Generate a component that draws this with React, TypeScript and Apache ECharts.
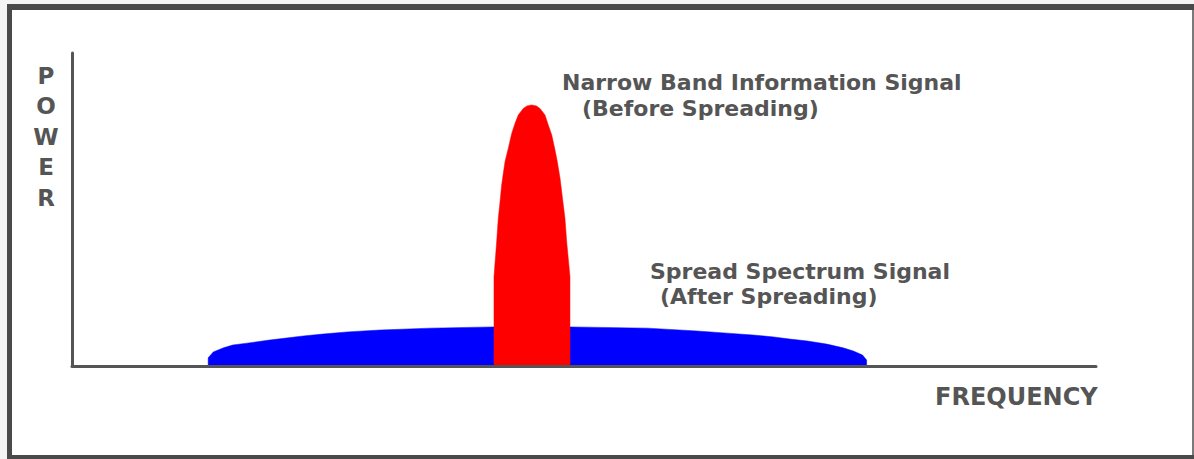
import React, { useEffect, useRef } from "react";
import * as echarts from "echarts";

// Spread spectrum (blue) signal: frequency / power readings
const blueFreq = [13.3, 13.3, 13.8, 14.8, 15.7, 17.1, 19.3, 22.6, 24.5, 26.9, 30.1, 35.0, 41.2, 48.6, 56.2, 61.0, 64.0, 66.5, 68.5, 70.1, 71.8, 73.7, 75.3, 76.3, 77.2, 77.6, 77.6];
const bluePower = [0, 2.6, 4.5, 5.8, 6.7, 7.3, 8.3, 9.6, 10.2, 10.9, 11.5, 12.1, 12.5, 12.5, 12.1, 11.2, 10.5, 9.9, 9.3, 8.6, 8.0, 7.0, 5.8, 4.8, 3.5, 1.9, 0];

// Narrow band (red) signal: frequency / power readings
const redFreq = [41.21, 41.21, 41.47, 41.63, 41.8, 41.96, 42.12, 42.29, 42.61, 42.94, 43.26, 43.58, 44.07, 44.43, 44.89, 45.36, 45.7, 46.19, 46.51, 46.85, 47.17, 47.39, 47.66, 47.98, 48.14, 48.31, 48.63, 48.63];
const redPower = [0, 28.5, 39.7, 47.2, 52.5, 57.8, 61.6, 65.3, 69.6, 74.3, 77.5, 80.2, 82.3, 83.1, 83.4, 83.1, 82.3, 80.2, 77.0, 73.8, 69.0, 65.3, 60.0, 51.4, 47.2, 39.7, 28.5, 0];

const yAxisTitle = ["P", "O", "W", "E", "R"];
const xAxisTitle = "FREQUENCY";
const narrowLabel = ["Narrow Band Information Signal", "(Before Spreading)"];
const spreadLabel = ["Spread Spectrum Signal", "(After Spreading)"];

const TEXT_COLOR = "#555555";
const FONT = "'DejaVu Sans', sans-serif";

export default function App() {
  const ref = useRef<HTMLDivElement>(null);
  useEffect(() => {
    if (!ref.current) return;
    const chart = echarts.init(ref.current, null, { renderer: "svg" });
    const blueData = blueFreq.map((f, i) => [f, bluePower[i]]);
    const redData = redFreq.map((f, i) => [f, redPower[i]]);
    const textStyle = (size: number) => ({
      fill: TEXT_COLOR,
      fontFamily: FONT,
      fontWeight: "bold" as const,
      fontSize: size,
    });
    chart.setOption({
      animation: false,
      backgroundColor: "#f4f4f4",
      grid: { left: 72, right: 98, top: 53, bottom: 93 },
      xAxis: {
        type: "value",
        min: 0,
        max: 100,
        z: 5,
        axisLine: { show: true, onZero: false, lineStyle: { color: "#555555", width: 3 } },
        axisTick: { show: false },
        axisLabel: { show: false },
        splitLine: { show: false },
      },
      yAxis: {
        type: "value",
        min: 0,
        max: 100,
        z: 5,
        axisLine: { show: true, onZero: false, lineStyle: { color: "#555555", width: 3 } },
        axisTick: { show: false },
        axisLabel: { show: false },
        splitLine: { show: false },
      },
      series: [
        {
          type: "line",
          name: "Spread Spectrum Signal",
          data: blueData,
          showSymbol: false,
          symbol: "none",
          lineStyle: { width: 0.5, color: "#0000ff" },
          areaStyle: { color: "#0000ff", opacity: 1 },
          z: 2,
        },
        {
          type: "line",
          name: "Narrow Band Information Signal",
          data: redData,
          showSymbol: false,
          symbol: "none",
          lineStyle: { width: 0.5, color: "#ff0000" },
          areaStyle: { color: "#ff0000", opacity: 1 },
          z: 3,
        },
      ],
      graphic: {
        elements: [
          { type: "rect", z: -10, shape: { x: 7, y: 4, width: 1187, height: 455 }, style: { fill: "#4a4a4a" }, silent: true },
          { type: "rect", z: -9, shape: { x: 12, y: 10, width: 1180, height: 445 }, style: { fill: "#ffffff" }, silent: true },
          { type: "rect", z: -9, shape: { x: 1192, y: 10, width: 2, height: 445 }, style: { fill: "#7a7a7a" }, silent: true },
          {
            type: "text",
            z: 10,
            x: 46,
            y: 60.5,
            style: {
              ...textStyle(23),
              text: yAxisTitle.join("\n"),
              lineHeight: 30.5,
              align: "center",
              verticalAlign: "top",
            },
          },
          { type: "text", z: 10, x: 935, y: 397, style: { ...textStyle(24), text: xAxisTitle, align: "left", verticalAlign: "middle" } },
          { type: "text", z: 10, x: 562, y: 82, style: { ...textStyle(22), text: narrowLabel[0], align: "left", verticalAlign: "middle" } },
          { type: "text", z: 10, x: 582, y: 108, style: { ...textStyle(22), text: narrowLabel[1], align: "left", verticalAlign: "middle" } },
          { type: "text", z: 10, x: 650, y: 271, style: { ...textStyle(22), text: spreadLabel[0], align: "left", verticalAlign: "middle" } },
          { type: "text", z: 10, x: 660, y: 296, style: { ...textStyle(22), text: spreadLabel[1], align: "left", verticalAlign: "middle" } },
        ],
      },
    });
    return () => chart.dispose();
  }, []);
  return (
    <div
      ref={ref}
      style={{ position: "absolute", left: 0, top: 0, width: 1194, height: 459 }}
    />
  );
}
